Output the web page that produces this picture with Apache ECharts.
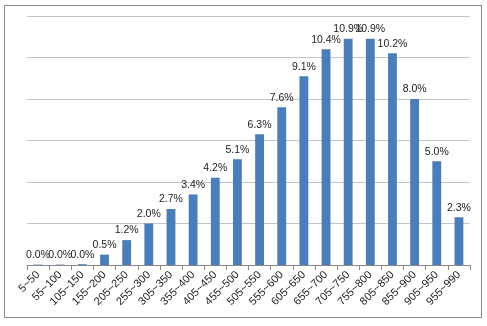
<!DOCTYPE html>
<html><head><meta charset="utf-8">
<script src="https://cdn.jsdelivr.net/npm/echarts@6/dist/echarts.min.js"></script>
<style>html,body{margin:0;padding:0;background:#fff}#c{width:487px;height:326px}
#b{position:absolute;left:4px;top:5px;width:478px;height:313px;border:1px solid #8a8a8a;box-sizing:border-box;pointer-events:none}</style>
</head><body><div id="c"></div><div id="b"></div>
<script>
const categories = ['5~50','55~100','105~150','155~200','205~250','255~300','305~350','355~400','405~450','455~500','505~550','555~600','605~650','655~700','705~750','755~800','805~850','855~900','905~950','955~990'];
const shares = [0.02,0.02,0.04,0.5,1.2,2.0,2.7,3.4,4.2,5.1,6.3,7.6,9.1,10.4,10.9,10.9,10.2,8.0,5.0,2.3];
const yTicks = [0,2,4,6,8,10,12];
const chart = echarts.init(document.getElementById('c'));
chart.setOption({
  animation:false,
  grid:{left:27,right:17,top:16,bottom:61,containLabel:false},
  xAxis:{type:'category',data:categories,
    axisLine:{lineStyle:{color:'#888'}},
    axisTick:{show:true,alignWithLabel:false,length:5,lineStyle:{color:'#888'}},
    axisLabel:{rotate:45,interval:0,fontSize:11,color:'#222',fontFamily:'Liberation Sans, Arial',margin:8}},
  yAxis:{type:'value',min:yTicks[0],max:yTicks[yTicks.length-1],interval:2,
    axisLabel:{show:false},axisLine:{show:false},axisTick:{show:false},
    splitLine:{lineStyle:{color:'#c4c4c4'}}},
  series:[{type:'bar',data:shares,barWidth:'40%',
    itemStyle:{color:'#4a7ebb'},
    label:{show:true,position:'top',distance:4,fontSize:10.5,color:'#222',fontFamily:'Liberation Sans, Arial',
      formatter:p=>p.value.toFixed(1)+'%'}}]
});
</script></body></html>
